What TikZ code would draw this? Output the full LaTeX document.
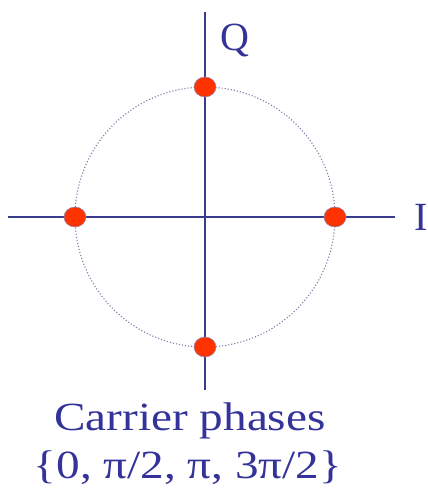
\documentclass[tikz,border=0pt]{standalone}
\usepackage{fontspec}
\setmainfont{Liberation Serif}
\newfontfamily\widefont[FakeStretch=1.18]{Liberation Serif}
\usepackage{xcolor}
\usepackage{tikz}
\usetikzlibrary{positioning}
\definecolor{ink}{HTML}{333399}
\definecolor{axis}{HTML}{3C3C8F}
\definecolor{ring}{HTML}{7A7AA6}
\definecolor{symb}{HTML}{FF3300}
\tikzset{
  axisline/.style={draw=axis, line width=1.6pt},
  ringline/.style={draw=ring, line width=1.1pt, dotted},
  symbol/.style={ellipse, fill=symb, draw=axis!60, line width=0.5pt, minimum width=22pt, minimum height=20pt, inner sep=0pt},
  lbl/.style={font=\fontsize{40}{48}\selectfont, text=ink, inner sep=0pt},
}
\usetikzlibrary{shapes.geometric}

\begin{document}
\begin{tikzpicture}[x=1pt,y=-1pt]
      \useasboundingbox (0,0) rectangle (428,496);
      \coordinate (o) at (205,217);
      \coordinate (iL) at (8,217);
      \coordinate (iR) at (395,217);
      \coordinate (qT) at (205,12);
      \coordinate (qB) at (205,390);
      \draw[ringline] (o) circle (130);
      \draw[axisline] (iL) -- (iR);
      \draw[axisline] (qT) -- (qB);
      % four carrier phases
      \foreach \n/\a in {s0/0,s1/90,s2/180,s3/270}
        {\node[symbol] (\n) at ([shift={(\a:130)}]o) {};}
      \node[lbl, anchor=base west] (qlab) at (220,50) {Q};
      \node[lbl, anchor=base west] (ilab) at (414,230) {I};
      \node[lbl, anchor=base, font=\widefont\fontsize{40}{48}\selectfont] (title) at (190,430) {Carrier phases};
      \node[lbl, anchor=base, font=\widefont\fontsize{40}{48}\selectfont] (phases) at (188,478) {\{0, π/2, π, 3π/2\}};
    \end{tikzpicture}
\end{document}
